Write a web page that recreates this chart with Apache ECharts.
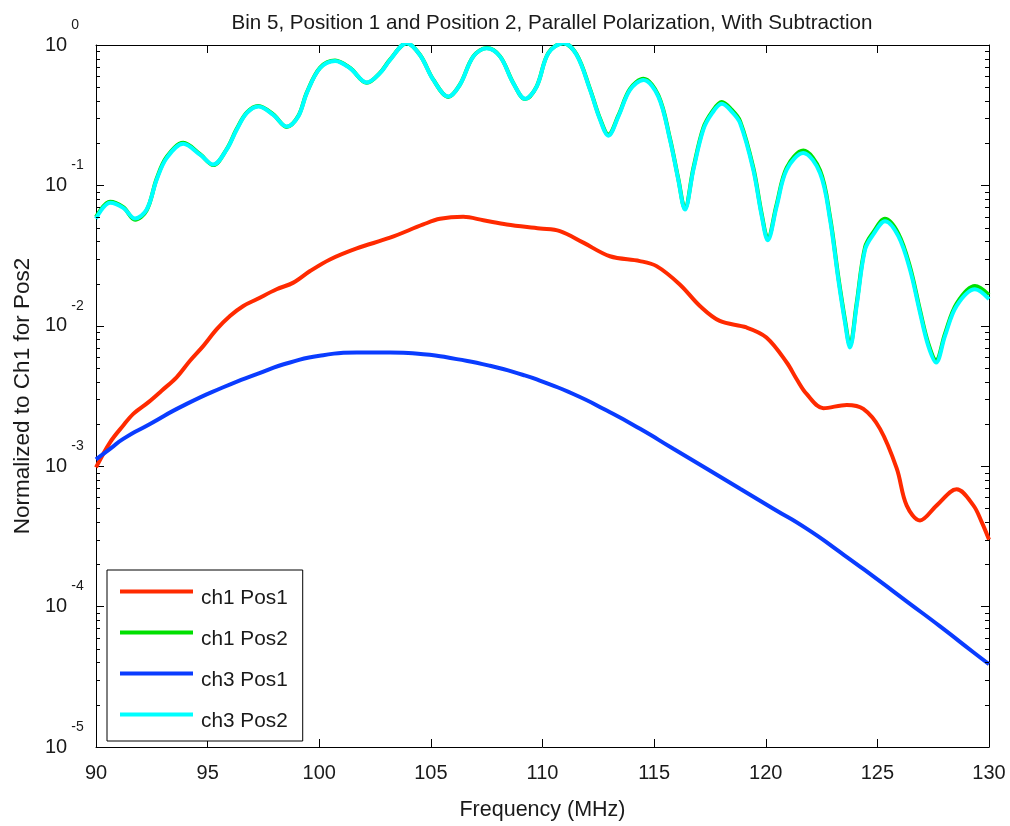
<!DOCTYPE html>
<html>
<head>
<meta charset="utf-8">
<title>Bin 5 spectra</title>
<script src="https://cdn.jsdelivr.net/npm/echarts@6/dist/echarts.min.js"></script>
<style>
  html, body { margin: 0; padding: 0; background: #fff; }
  #chart { width: 1010px; height: 826px; }
</style>
</head>
<body>
<div id="chart"></div>
<script>
// Frequency samples (MHz) for the two Pos2 traces
const freqPos2 = [90.0, 90.63, 91.22, 91.75, 92.27, 92.72, 93.17, 93.91, 94.66, 95.25, 95.85, 96.30, 96.75, 97.27, 97.94, 98.54, 99.06, 99.44, 100.03, 100.71, 101.38, 102.13, 102.72, 103.17, 103.92, 104.51, 105.11, 105.78, 106.30, 106.90, 107.50, 108.10, 108.69, 109.22, 109.74, 110.26, 110.93, 111.53, 112.13, 112.58, 112.95, 113.40, 113.92, 114.52, 115.19, 115.71, 116.08, 116.38, 116.76, 117.20, 117.60, 118.03, 118.47, 118.85, 119.44, 119.82, 120.09, 120.49, 120.94, 121.68, 122.43, 122.88, 123.25, 123.55, 123.77, 124.07, 124.45, 124.82, 125.34, 125.94, 126.46, 126.91, 127.28, 127.63, 128.03, 128.55, 129.37, 130.0];
const ch1Pos2 = [0.0595, 0.0765, 0.0700, 0.0570, 0.0665, 0.112, 0.160, 0.201, 0.167, 0.1395, 0.181, 0.252, 0.330, 0.368, 0.320, 0.261, 0.312, 0.458, 0.688, 0.775, 0.686, 0.538, 0.633, 0.787, 1.03, 0.852, 0.566, 0.427, 0.522, 0.830, 0.952, 0.830, 0.537, 0.412, 0.508, 0.878, 1.03, 0.855, 0.485, 0.298, 0.230, 0.315, 0.487, 0.575, 0.438, 0.216, 0.112, 0.0685, 0.133, 0.256, 0.335, 0.392, 0.346, 0.287, 0.134, 0.0625, 0.0420, 0.0735, 0.134, 0.177, 0.128, 0.0595, 0.0223, 0.0110, 0.00725, 0.0144, 0.0364, 0.0465, 0.0578, 0.0453, 0.0263, 0.0129, 0.0075, 0.0057, 0.0088, 0.0144, 0.0192, 0.0166];
const ch3Pos2 = [0.058, 0.0752, 0.0692, 0.0581, 0.0673, 0.110, 0.157, 0.198, 0.1655, 0.1406, 0.1795, 0.249, 0.327, 0.365, 0.318, 0.263, 0.310, 0.454, 0.683, 0.770, 0.683, 0.540, 0.630, 0.782, 1.03, 0.849, 0.564, 0.429, 0.520, 0.826, 0.948, 0.826, 0.535, 0.4135, 0.506, 0.873, 1.03, 0.849, 0.479, 0.293, 0.226, 0.310, 0.479, 0.564, 0.429, 0.2115, 0.110, 0.0673, 0.1295, 0.249, 0.327, 0.381, 0.336, 0.278, 0.1295, 0.0604, 0.0407, 0.0711, 0.1295, 0.170, 0.1227, 0.0571, 0.0214, 0.01055, 0.00701, 0.01385, 0.035, 0.0448, 0.0556, 0.0435, 0.0252, 0.0124, 0.0072, 0.00548, 0.00848, 0.01385, 0.0182, 0.0155];

// ch1 Pos1
const freqCh1Pos1 = [90.0, 90.63, 91.22, 91.67, 92.34, 92.94, 93.61, 94.21, 94.81, 95.41, 96.00, 96.60, 97.20, 98.09, 98.84, 99.59, 100.48, 101.68, 103.17, 104.66, 105.41, 106.45, 107.35, 108.40, 109.89, 110.78, 111.83, 113.02, 114.36, 115.11, 116.15, 117.05, 117.94, 119.14, 120.03, 120.94, 121.38, 121.83, 122.58, 123.63, 124.37, 125.12, 125.87, 126.31, 126.91, 127.66, 128.55, 129.30, 129.67, 130.0];
const ch1Pos1 = [0.00098, 0.00148, 0.00195, 0.00236, 0.00285, 0.00345, 0.0043, 0.00564, 0.0072, 0.00946, 0.01175, 0.01385, 0.01545, 0.0182, 0.0203, 0.02455, 0.0297, 0.0356, 0.0424, 0.0527, 0.0578, 0.0597, 0.0565, 0.0527, 0.0493, 0.0472, 0.0391, 0.0313, 0.0289, 0.0266, 0.0197, 0.01385, 0.01083, 0.00973, 0.00826, 0.00548, 0.00418, 0.00327, 0.00259, 0.00273, 0.00256, 0.001845, 0.00096, 0.000526, 0.000411, 0.000526, 0.000684, 0.000526, 0.000401, 0.000300];

// ch3 Pos1
const freqCh3Pos1 = [90.0, 90.63, 91.22, 92.42, 93.91, 95.70, 97.20, 98.69, 100.18, 101.68, 103.17, 104.66, 106.16, 107.65, 109.14, 110.0, 111.38, 112.88, 114.37, 115.86, 117.36, 118.85, 120.34, 121.83, 123.33, 124.82, 126.31, 127.81, 129.30, 130.0];
const ch3Pos1 = [0.00112, 0.00133, 0.001566, 0.0020, 0.0027, 0.00365, 0.00453, 0.00548, 0.00618, 0.00646, 0.00646, 0.00628, 0.00579, 0.00519, 0.00446, 0.0040, 0.00327, 0.00249, 0.001845, 0.00133, 0.00096, 0.00069, 0.000498, 0.000359, 0.000244, 0.000164, 0.000109, 0.0000723, 0.0000473, 0.0000389];

const seriesNames = ['ch1 Pos1', 'ch1 Pos2', 'ch3 Pos1', 'ch3 Pos2'];
const seriesColors = ['#ff2a00', '#00e000', '#0a3cff', '#00ffff'];

// Log-axis minor tick multipliers (2..9 within each decade)
const minorMultipliers = [2, 3, 4, 5, 6, 7, 8, 9];
const decades = [-5, -4, -3, -2, -1];

const FONT = '"Liberation Sans", Arial, Helvetica, sans-serif';
const TEXT = '#1a1a1a';

const pairs = (xs, ys) => xs.map((x, i) => [x, ys[i]]);

const minorTickData = [];
decades.forEach(d => minorMultipliers.forEach(m => minorTickData.push([90, m * Math.pow(10, d)])));

const chart = echarts.init(document.getElementById('chart'), null, { renderer: 'canvas' });

const lineSeries = (name, data, color, z, smooth) => ({
  name, type: 'line', data,
  xAxisIndex: 0, yAxisIndex: 0,
  symbol: 'none', smooth, clip: true,
  lineStyle: { color, width: 4 },
  itemStyle: { color },
  z
});

const axisLineStyle = { show: true, lineStyle: { color: '#000', width: 1 } };
const tickStyle = { show: true, inside: true, length: 8, lineStyle: { color: '#000' } };

chart.setOption({
  animation: false,
  backgroundColor: '#fff',
  title: {
    text: 'Bin 5, Position 1 and Position 2, Parallel Polarization, With Subtraction',
    left: 547, top: 8, textAlign: 'center',
    textStyle: { fontFamily: FONT, fontSize: 20.6, fontWeight: 'normal', color: TEXT }
  },
  grid: { left: 96, right: 21, top: 45, bottom: 77, containLabel: false },
  legend: {
    data: seriesNames.map(name => ({ name, icon: 'rect' })),
    orient: 'vertical',
    left: 107, top: 570,
    padding: [4, 15, 9, 13],
    itemGap: 6,
    itemWidth: 73, itemHeight: 4,
    borderColor: '#000', borderWidth: 1,
    backgroundColor: '#fff',
    selectedMode: false,
    formatter: name => '{t|' + name + '}',
    textStyle: {
      rich: {
        t: { fontFamily: FONT, fontSize: 20.8, lineHeight: 22, color: TEXT, padding: [14, 0, 0, 3] }
      }
    }
  },
  xAxis: [
    {
      type: 'value', min: 90, max: 130, interval: 5, position: 'bottom',
      axisLine: axisLineStyle,
      axisTick: tickStyle,
      axisLabel: { fontFamily: FONT, fontSize: 20, color: TEXT, margin: 16 },
      splitLine: { show: false },
      name: 'Frequency (MHz)', nameLocation: 'middle', nameGap: 52,
      nameTextStyle: { fontFamily: FONT, fontSize: 21.5, color: TEXT }
    },
    {
      type: 'value', min: 90, max: 130, interval: 5, position: 'top',
      axisLine: axisLineStyle,
      axisTick: tickStyle,
      axisLabel: { show: false },
      splitLine: { show: false }
    }
  ],
  yAxis: [
    {
      type: 'log', logBase: 10, min: 1e-5, max: 1, splitNumber: 5, position: 'left',
      axisLine: axisLineStyle,
      axisTick: tickStyle,
      axisLabel: {
        align: 'left', margin: 51,
        formatter: v => '{b|10}{e|' + Math.round(Math.log10(v)) + '}',
        rich: {
          b: { fontFamily: FONT, fontSize: 20, lineHeight: 22, color: TEXT, verticalAlign: 'middle' },
          e: { fontFamily: FONT, fontSize: 14, lineHeight: 16, color: TEXT, verticalAlign: 'middle', padding: [0, 0, 40, 4] }
        }
      },
      splitLine: { show: false },
      minorTick: { show: false },
      name: 'Normalized to Ch1 for Pos2', nameLocation: 'middle', nameGap: 61,
      nameTextStyle: { fontFamily: FONT, fontSize: 22.5, color: TEXT }
    },
    {
      type: 'log', logBase: 10, min: 1e-5, max: 1, splitNumber: 5, position: 'right',
      axisLine: axisLineStyle,
      axisTick: tickStyle,
      axisLabel: { show: false },
      splitLine: { show: false }
    }
  ],
  series: [
    lineSeries(seriesNames[0], pairs(freqCh1Pos1, ch1Pos1), seriesColors[0], 2, 0.35),
    lineSeries(seriesNames[1], pairs(freqPos2, ch1Pos2), seriesColors[1], 3, 0.35),
    lineSeries(seriesNames[2], pairs(freqCh3Pos1, ch3Pos1), seriesColors[2], 4, 0.6),
    lineSeries(seriesNames[3], pairs(freqPos2, ch3Pos2), seriesColors[3], 5, 0.35),
    {
      // minor ticks of the log axis, drawn on both the left and right frame edges
      name: 'minorTicks', type: 'custom', xAxisIndex: 0, yAxisIndex: 0,
      silent: true, clip: false, z: 6,
      data: minorTickData,
      renderItem: (params, api) => {
        const v = api.value(1);
        const pl = api.coord([90, v]);
        const pr = api.coord([130, v]);
        const y = Math.round(pl[1]) + 0.5;
        return {
          type: 'group',
          children: [
            { type: 'line', shape: { x1: pl[0], y1: y, x2: pl[0] + 4, y2: y }, style: { stroke: '#000', lineWidth: 1 } },
            { type: 'line', shape: { x1: pr[0] - 4, y1: y, x2: pr[0], y2: y }, style: { stroke: '#000', lineWidth: 1 } }
          ]
        };
      }
    }
  ]
});
</script>
</body>
</html>
